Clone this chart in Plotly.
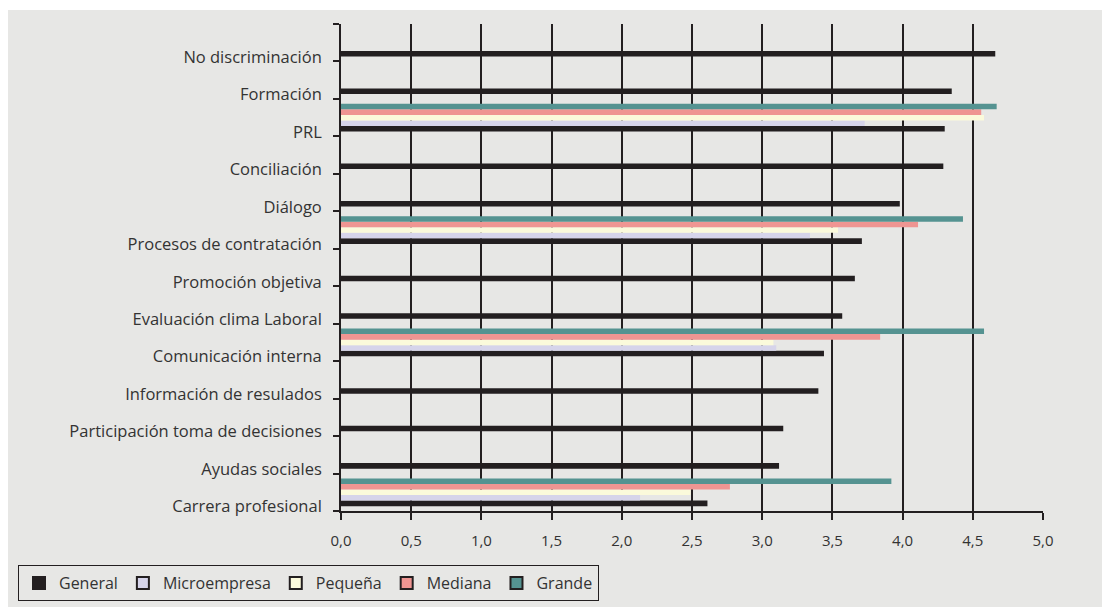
import plotly.graph_objects as go

# Categories, top to bottom as listed on the vertical axis
categorias = [
    "No discriminación",
    "Formación",
    "PRL",
    "Conciliación",
    "Diálogo",
    "Procesos de contratación",
    "Promoción objetiva",
    "Evaluación clima Laboral",
    "Comunicación interna",
    "Información de resulados",
    "Participación toma de decisiones",
    "Ayudas sociales",
    "Carrera profesional",
]

general = [4.66, 4.35, 4.30, 4.29, 3.98, 3.71, 3.66, 3.57, 3.44, 3.40, 3.15, 3.12, 2.61]
microempresa = [None, None, 3.73, None, None, 3.34, None, None, 3.10, None, None, None, 2.13]
pequena = [None, None, 4.58, None, None, 3.54, None, None, 3.08, None, None, None, 2.49]
mediana = [None, None, 4.56, None, None, 4.11, None, None, 3.84, None, None, None, 2.77]
grande = [None, None, 4.67, None, None, 4.43, None, None, 4.58, None, None, None, 3.92]

x_ticks = [0, 0.5, 1.0, 1.5, 2.0, 2.5, 3.0, 3.5, 4.0, 4.5, 5.0]

series = [
    ("General", general, "#231F20"),
    ("Microempresa", microempresa, "#D6D4EA"),
    ("Pequeña", pequena, "#FBFADB"),
    ("Mediana", mediana, "#EF9592"),
    ("Grande", grande, "#559391"),
]

n = len(categorias)
# numeric positions: first category at the top
pos = [n - 1 - i for i in range(n)]

INK = "#231F20"
TXT = "#333333"
BG = "#E7E7E5"
FONT = "Open Sans, Noto Sans, sans-serif"

fig = go.Figure()

for nombre, valores, color in series:
    fig.add_trace(go.Bar(
        name=nombre,
        x=valores,
        y=pos,
        orientation="h",
        marker=dict(color=color, line=dict(width=0)),
        showlegend=False,
        hoverinfo="x+name",
    ))

# legend entries with outlined square swatches
for nombre, valores, color in series:
    fig.add_trace(go.Scatter(
        name=nombre,
        x=[None], y=[None],
        mode="markers",
        marker=dict(symbol="square", size=10, color=color,
                    line=dict(color=INK, width=1.2)),
        showlegend=True,
    ))

# plot area geometry in pixels
W, H = 1110, 613
L, R, T, B = 341, 67, 24, 102
pw = W - L - R
ph = H - T - B

def px_to_paper_x(px):
    return (px - L) / pw

def px_to_paper_y(py):
    return (H - B - py) / ph

# grey panel behind the chart
fig.add_shape(
    type="rect", xref="paper", yref="paper",
    x0=px_to_paper_x(8), x1=px_to_paper_x(1102),
    y0=px_to_paper_y(607), y1=px_to_paper_y(10),
    fillcolor=BG, line=dict(width=0), layer="below",
)

fig.update_layout(
    width=W, height=H,
    margin=dict(l=L, r=R, t=T, b=B, pad=0),
    paper_bgcolor="white",
    plot_bgcolor="rgba(0,0,0,0)",
    barmode="group",
    bargap=0.26,
    bargroupgap=0,
    separators=",.",
    font=dict(family=FONT, size=16, color=TXT),
    legend=dict(
        orientation="h",
        x=px_to_paper_x(18), xanchor="left",
        y=px_to_paper_y(565), yanchor="top",
        bordercolor=INK, borderwidth=1,
        bgcolor="rgba(0,0,0,0)",
        font=dict(family=FONT, size=16, color=TXT),
        itemsizing="constant",
        tracegroupgap=0,
    ),
    xaxis=dict(
        range=[0, 5],
        tickvals=x_ticks,
        tickformat=".1f",
        showgrid=True,
        gridcolor=INK,
        gridwidth=1.6,
        zeroline=False,
        showline=True,
        linecolor=INK,
        linewidth=1.8,
        ticks="outside",
        ticklen=7,
        tickwidth=1.6,
        tickcolor=INK,
        ticklabelstandoff=8,
        tickfont=dict(family=FONT, size=15, color=TXT),
        fixedrange=True,
    ),
    yaxis=dict(
        range=[-0.5, n - 0.5],
        tickvals=[p - 0.38 for p in pos],
        ticktext=categorias,
        ticks="",
        showgrid=False,
        zeroline=False,
        showline=True,
        linecolor=INK,
        linewidth=1.8,
        ticklabelstandoff=14,
        minor=dict(
            tickvals=[p - 0.5 for p in pos] + [n - 0.5],
            ticks="outside",
            ticklen=6,
            tickwidth=1.6,
            tickcolor=INK,
            showgrid=False,
        ),
        tickfont=dict(family=FONT, size=16.5, color=TXT),
        fixedrange=True,
    ),
)

fig.write_html("out.html")
